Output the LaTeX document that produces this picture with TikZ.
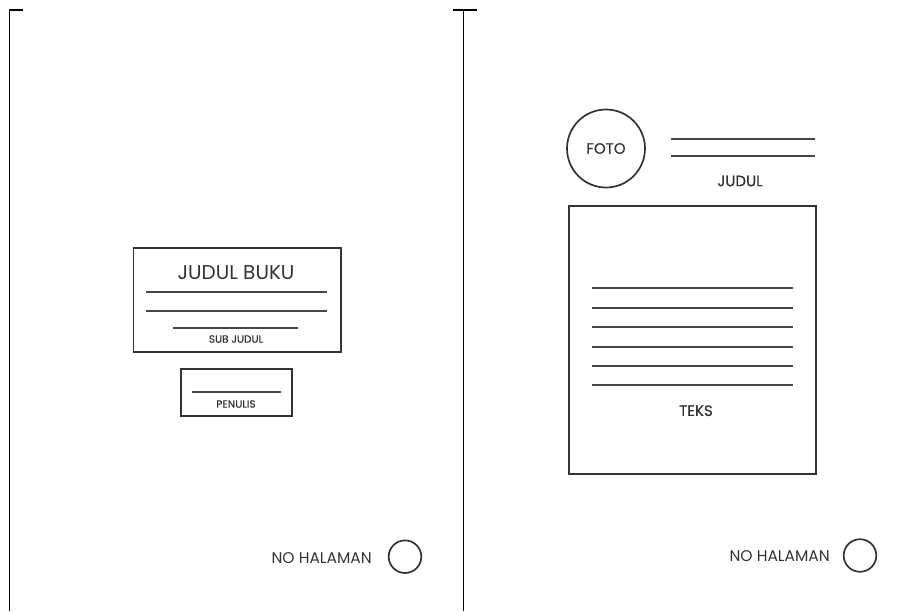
\documentclass[tikz,border=0pt]{standalone}
\usepackage{fontspec}
\setmainfont{Poppins}
\newfontfamily\medfont{Poppins}[FakeBold=0.6]
\usetikzlibrary{calc}

\tikzset{
    pageline/.style={line width=1.3pt, black},
    boxline/.style={line width=1.7pt, black!80},
    textline/.style={line width=1.8pt, black!72},
    label/.style={inner sep=0pt, text=black!80}
}

\begin{document}
\begin{tikzpicture}[x=1pt, y=-1pt]
    \useasboundingbox (0,0) rectangle (904,611);

    % Page edges
    \draw[pageline] (23,10) -- (9.5,10) -- (9.5,611);
    \draw[pageline] (452.5,10) -- (476.5,10);
    \draw[pageline] (463.5,10) -- (463.5,611);

    % ---- Left page: cover ----
    \draw[boxline] (133.5,248) rectangle (341,352);
    \node[label, font=\fontsize{20}{22}\selectfont] (title) at (236,273) {JUDUL BUKU};
    \draw[textline] (146,291.7) -- (326.7,291.7);
    \draw[textline] (146,310.7) -- (326.7,310.7);
    \draw[textline] (173.3,328.3) -- (298.3,328.3);
    \node[label, font=\medfont\fontsize{10.5}{12}\selectfont] (subtitle) at (236,339) {SUB JUDUL};

    % Author box
    \draw[boxline] (180.7,369) rectangle (291.7,415.7);
    \draw[textline] (191.7,392.3) -- (281,392.3);
    \node[label, font=\medfont\fontsize{10.5}{12}\selectfont] (author) at (236,404) {PENULIS};

    % Page number
    \node[label, font=\fontsize{15.5}{17}\selectfont, anchor=east] (pagenoL) at (372,558.5) {NO HALAMAN};
    \draw[boxline] (405,556.7) circle[radius=16.3];

    % ---- Right page: content ----
    \draw[boxline] (606,148.5) circle[radius=39];
    \node[label, font=\medfont\fontsize{15}{17}\selectfont] (photo) at (606,148.5) {FOTO};
    \draw[textline] (671,139.3) -- (815,139.3);
    \draw[textline] (671,156) -- (815,156);
    \node[label, font=\medfont\fontsize{15}{17}\selectfont] (heading) at (740,181) {JUDUL};

    % Text block
    \draw[boxline, line width=2.4pt] (569,205.7) rectangle (816,474);
    \foreach \y in {288.3,307.7,327,346.7,366,385.3}
        \draw[textline] (592.3,\y) -- (793.3,\y);
    \node[label, font=\medfont\fontsize{15}{17}\selectfont] (body) at (696,410.7) {TEKS};

    % Page number
    \node[label, font=\fontsize{15.5}{17}\selectfont, anchor=east] (pagenoR) at (830,556) {NO HALAMAN};
    \draw[boxline] (860,555.5) circle[radius=16.3];

\end{tikzpicture}
\end{document}
